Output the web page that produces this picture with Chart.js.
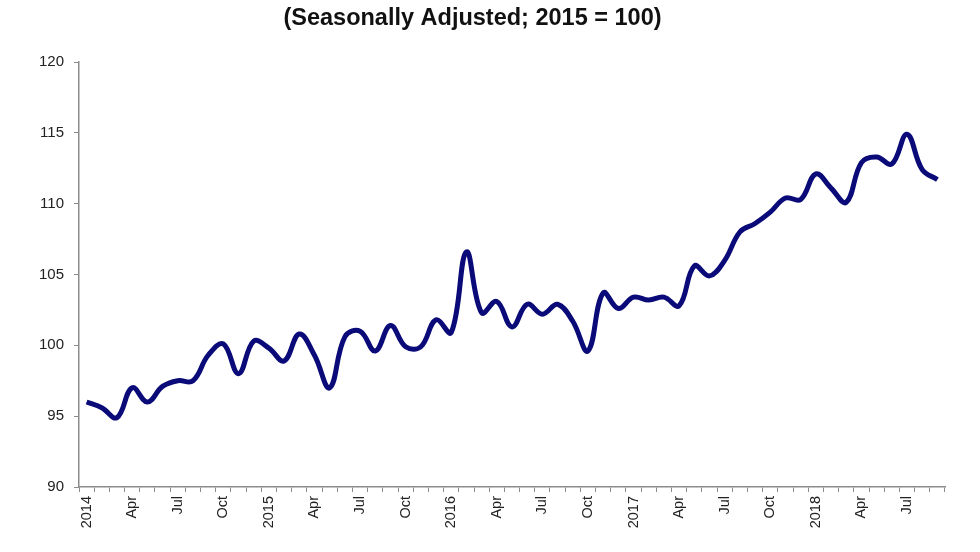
<!DOCTYPE html>
<html>
<head>
<meta charset="utf-8">
<script src="https://cdn.jsdelivr.net/npm/chart.js@4.4.1/dist/chart.umd.min.js"></script>
<style>
  html, body { margin: 0; padding: 0; background: #fff; }
  #wrap { width: 980px; height: 552px; }
</style>
</head>
<body>
<div id="wrap"><canvas id="grafica"></canvas></div>
<script>
// meses (ene 2014 - sep 2018)
const years = ['2014', '2015', '2016', '2017', '2018'];
const monthNames = ['Jan', 'Feb', 'Mar', 'Apr', 'May', 'Jun', 'Jul', 'Aug', 'Sep', 'Oct', 'Nov', 'Dec'];
const shownMonths = { 'Apr': 'Apr', 'Jul': 'Jul', 'Oct': 'Oct' };

// indice, 2015 = 100
const indexValues = [
  96.0, 95.6, 94.9, 97.0, 96.0, 97.1, 97.5, 97.5, 99.3, 100.1, 98.0, 100.3,
  99.8, 98.9, 100.8, 99.3, 97.0, 100.6, 101.0, 99.6, 101.4, 99.9, 99.9, 101.8,
  100.9, 106.6, 102.3, 103.1, 101.3, 102.9, 102.2, 102.9, 101.7, 99.6, 103.7, 102.6,
  103.4, 103.2, 103.4, 102.8, 105.6, 104.9, 106.0, 108.0, 108.6, 109.4, 110.4, 110.3,
  112.1, 111.1, 110.1, 112.9, 113.3, 112.8, 114.9, 112.4, 111.7
];

const yTicks = [90, 95, 100, 105, 110, 115, 120];

// etiquetas: año en enero, Apr/Jul/Oct, el resto vacio
const labels = [];
for (let i = 0; i < indexValues.length; i++) {
  let m = monthNames[i % 12];
  if (m === 'Jan') labels.push(years[Math.floor(i / 12)]);
  else labels.push(m);
}

const axisColor = '#8c8c8c';

new Chart(document.getElementById('grafica'), {
  type: 'line',
  data: {
    labels: labels,
    datasets: [{
      label: 'Index',
      data: indexValues,
      borderColor: '#0a0a78',
      borderWidth: 5,
      tension: 0.4,
      pointRadius: 0,
      fill: false
    }]
  },
  options: {
    responsive: true,
    maintainAspectRatio: false,
    animation: false,
    layout: { padding: { left: 0, right: 35, top: 0, bottom: 0 } },
    plugins: {
      legend: { display: false },
      tooltip: { enabled: false },
      title: {
        display: true,
        text: '(Seasonally Adjusted; 2015 = 100)',
        color: '#111',
        font: { family: 'Liberation Sans', size: 23.5, weight: 'bold', lineHeight: 1.2 },
        padding: { top: 4, bottom: 29.8 }
      }
    },
    scales: {
      x: {
        type: 'category',
        offset: true,
        grid: {
          offset: true,
          drawOnChartArea: false,
          drawTicks: true,
          tickLength: 5,
          color: axisColor
        },
        border: { color: axisColor, width: 1.5 },
        ticks: {
          autoSkip: false,
          maxRotation: 90,
          minRotation: 90,
          padding: 4,
          color: '#222',
          font: { family: 'Liberation Sans', size: 14.5 },
          callback: function (value, index) {
            let l = labels[index];
            if (years.includes(l) || shownMonths[l]) return l;
            return '';
          }
        },
        afterFit: function (scale) { scale.height = 65; }
      },
      y: {
        min: 90,
        max: 120,
        grid: {
          drawOnChartArea: false,
          drawTicks: true,
          tickLength: 5,
          color: axisColor
        },
        border: { color: axisColor, width: 1.5 },
        afterBuildTicks: function (scale) {
          scale.ticks = yTicks.map(v => ({ value: v }));
        },
        ticks: {
          padding: 10,
          color: '#222',
          font: { family: 'Liberation Sans', size: 15 }
        },
        afterFit: function (scale) { scale.width = 79; }
      }
    }
  }
});
</script>
</body>
</html>
